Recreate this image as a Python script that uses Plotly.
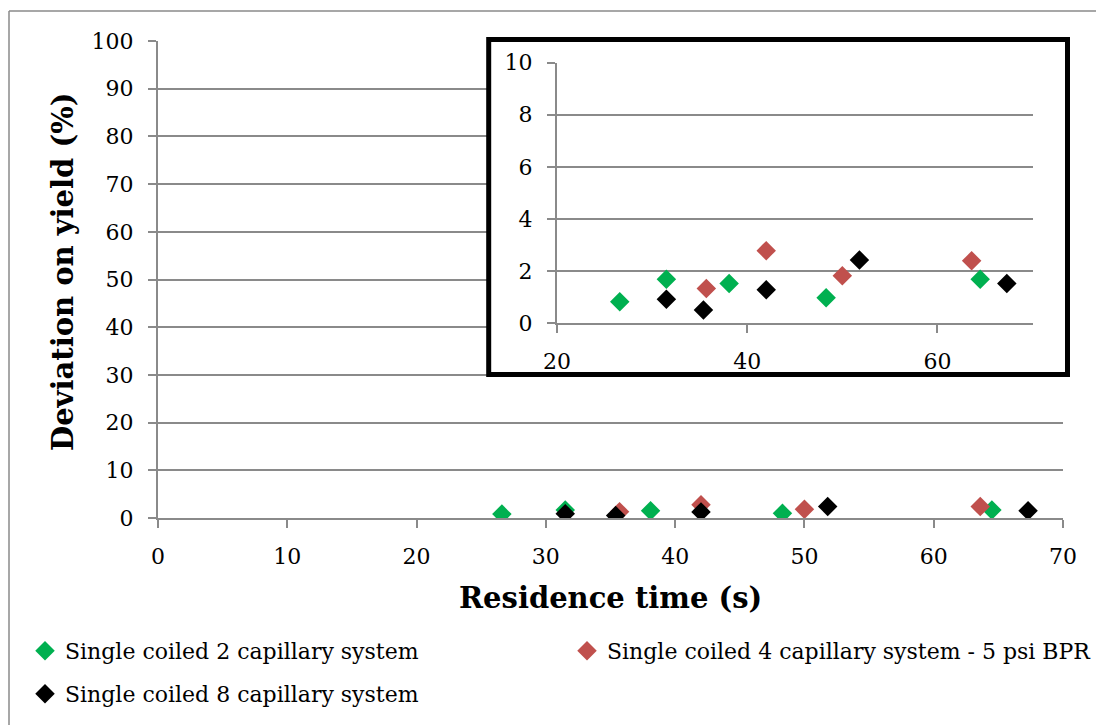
import plotly.graph_objects as go

W, H = 1097, 726

# ---- data -------------------------------------------------------------
series_names = [
    "Single coiled 2 capillary system",
    "Single coiled 4 capillary system - 5 psi BPR",
    "Single coiled 8 capillary system",
]
series_colors = ["#00B050", "#C0504D", "#000000"]

time_2cap = [26.6, 31.5, 38.1, 48.3, 64.5]
dev_2cap = [0.82, 1.68, 1.52, 0.97, 1.68]

time_4cap = [35.7, 42.0, 50.0, 63.6]
dev_4cap = [1.33, 2.78, 1.82, 2.39]

time_8cap = [31.5, 35.4, 42.0, 51.8, 67.3]
dev_8cap = [0.91, 0.50, 1.28, 2.42, 1.52]

main_x_ticks = [0, 10, 20, 30, 40, 50, 60, 70]
main_y_ticks = [0, 10, 20, 30, 40, 50, 60, 70, 80, 90, 100]
inset_x_ticks = [20, 40, 60]
inset_y_ticks = [0, 2, 4, 6, 8, 10]

x_title = "Residence time (s)"
y_title = "Deviation on yield (%)"

MAIN_X_RANGE = [0, 70]
MAIN_Y_RANGE = [0, 100]
INSET_X_RANGE = [20, 70]
INSET_Y_RANGE = [0, 10]


# ---- pixel -> paper helpers -------------------------------------------
def px(x):
    return x / W


def py(y):
    return 1 - y / H


MAIN = dict(left=158, right=1063, top=41, bottom=518)
INSET = dict(left=557, right=1032.5, top=62.7, bottom=323)
INSET_BOX = dict(left=488.7, right=1067.5, top=39.5, bottom=374.5)


def main_x(pix):
    f = (pix - MAIN["left"]) / (MAIN["right"] - MAIN["left"])
    return MAIN_X_RANGE[0] + f * (MAIN_X_RANGE[1] - MAIN_X_RANGE[0])


def main_y(pix):
    f = (MAIN["bottom"] - pix) / (MAIN["bottom"] - MAIN["top"])
    return MAIN_Y_RANGE[0] + f * (MAIN_Y_RANGE[1] - MAIN_Y_RANGE[0])


GRID = "#8a8a8a"
TICK_FONT = dict(family="DejaVu Serif", size=22, color="#000000")

fig = go.Figure()

# white backing for the inset, drawn on the main axes so it hides their gridlines
bx0, bx1 = main_x(INSET_BOX["left"]), main_x(INSET_BOX["right"])
by0, by1 = main_y(INSET_BOX["bottom"]), main_y(INSET_BOX["top"])
fig.add_trace(go.Scatter(
    x=[bx0, bx1, bx1, bx0, bx0], y=[by0, by0, by1, by1, by0],
    mode="none", fill="toself", fillcolor="white",
    hoverinfo="skip", showlegend=False, xaxis="x", yaxis="y",
))

series = [
    (time_2cap, dev_2cap),
    (time_4cap, dev_4cap),
    (time_8cap, dev_8cap),
]
legend_ids = ["legend", "legend2", "legend3"]

# main axes
for (xs, ys), name, color, lg in zip(series, series_names, series_colors, legend_ids):
    fig.add_trace(go.Scatter(
        x=xs, y=ys, mode="markers", name=name, legend=lg,
        marker=dict(symbol="diamond", size=15, color=color, line=dict(width=0)),
        xaxis="x", yaxis="y",
    ))

# zoomed inset
for (xs, ys), name, color in zip(series, series_names, series_colors):
    fig.add_trace(go.Scatter(
        x=xs, y=ys, mode="markers", name=name, showlegend=False,
        marker=dict(symbol="diamond", size=15, color=color, line=dict(width=0)),
        xaxis="x2", yaxis="y2",
    ))

axis_common = dict(
    showgrid=False, zeroline=False, showline=True, linecolor=GRID, linewidth=2,
    ticks="outside", ticklen=8, tickwidth=2, tickcolor=GRID,
    tickfont=TICK_FONT, ticklabelstandoff=10,
)

fig.update_layout(
    width=W, height=H,
    margin=dict(l=0, r=0, t=0, b=0, autoexpand=False),
    paper_bgcolor="white", plot_bgcolor="white",
    xaxis=dict(
        domain=[px(MAIN["left"]), px(MAIN["right"])],
        range=MAIN_X_RANGE, tickvals=main_x_ticks, anchor="y",
        **axis_common,
    ),
    yaxis=dict(
        domain=[py(MAIN["bottom"]), py(MAIN["top"])],
        range=MAIN_Y_RANGE, tickvals=main_y_ticks, anchor="x",
        **{**axis_common, "showgrid": True, "gridcolor": GRID, "gridwidth": 2},
    ),
    xaxis2=dict(
        domain=[px(INSET["left"]), px(INSET["right"])],
        range=INSET_X_RANGE, tickvals=inset_x_ticks, anchor="y2",
        **axis_common,
    ),
    yaxis2=dict(
        domain=[py(INSET["bottom"]), py(INSET["top"])],
        range=INSET_Y_RANGE, tickvals=inset_y_ticks, anchor="x2",
        **{**axis_common, "showgrid": True, "gridcolor": GRID, "gridwidth": 2},
    ),
)

legend_style = dict(
    orientation="h", bgcolor="rgba(0,0,0,0)", borderwidth=0,
    font=dict(family="DejaVu Serif", size=22, color="#000000"),
    xanchor="left", yanchor="middle",
)
fig.update_layout(
    legend=dict(x=px(25), y=py(651), **legend_style),
    legend2=dict(x=px(567), y=py(651), **legend_style),
    legend3=dict(x=px(25), y=py(694), **legend_style),
)

# axis titles
fig.add_annotation(
    text=f"<b>{x_title}</b>", xref="paper", yref="paper",
    x=px((MAIN["left"] + MAIN["right"]) / 2), y=py(598),
    xanchor="center", yanchor="middle", showarrow=False,
    font=dict(family="DejaVu Serif", size=29, color="#000000"),
)
fig.add_annotation(
    text=f"<b>{y_title}</b>", xref="paper", yref="paper",
    x=px(62.5), y=py(272.5), textangle=-90,
    xanchor="center", yanchor="middle", showarrow=False,
    font=dict(family="DejaVu Serif", size=29, color="#000000"),
)

# thick frame of the inset
fig.add_shape(
    type="rect", xref="paper", yref="paper", layer="above",
    x0=px(INSET_BOX["left"]), x1=px(INSET_BOX["right"]),
    y0=py(INSET_BOX["bottom"]), y1=py(INSET_BOX["top"]),
    line=dict(color="#000000", width=5), fillcolor="rgba(0,0,0,0)",
)
# outer chart border: only its left and top edges are on the canvas
border = dict(color="#8a8a8a", width=1.5)
fig.add_shape(type="line", xref="paper", yref="paper", layer="above",
              x0=px(9), x1=px(9), y0=py(725), y1=py(11), line=border)
fig.add_shape(type="line", xref="paper", yref="paper", layer="above",
              x0=px(9), x1=px(1096), y0=py(11), y1=py(11), line=border)

fig.write_html("out.html", config={"displayModeBar": False})
